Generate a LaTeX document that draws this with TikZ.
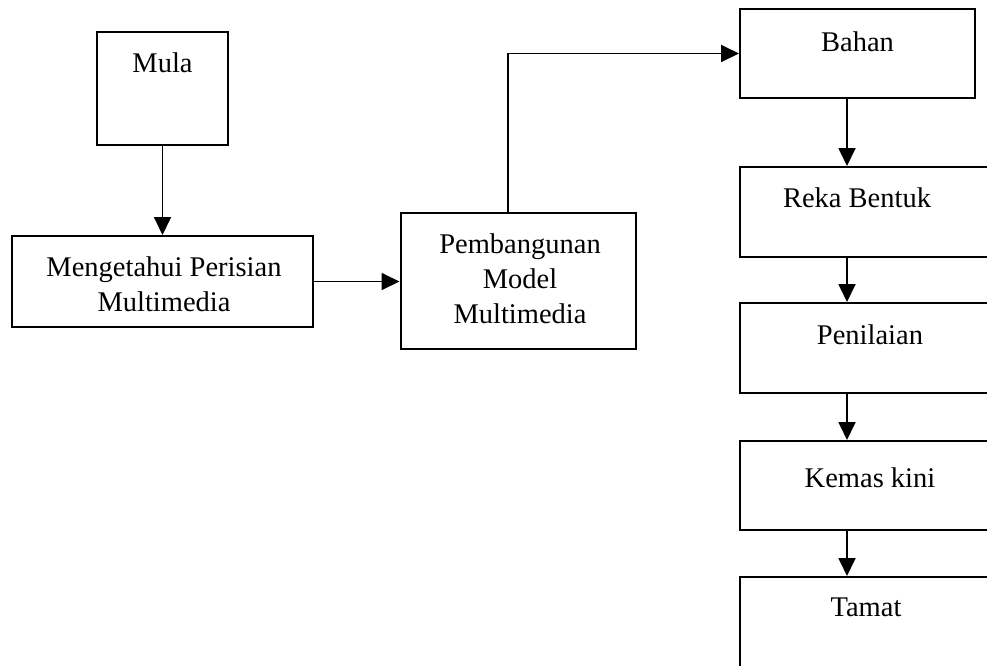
\documentclass[tikz,border=0pt]{standalone}
\usepackage{fontspec}
\setmainfont{Liberation Serif}
\usetikzlibrary{arrows.meta,positioning}

\tikzset{
  box/.style={draw=black, line width=2pt, fill=none, inner sep=0pt},
  lbl/.style={inner sep=0pt, align=center, anchor=north,
              font=\fontsize{28.5}{35}\selectfont},
  arr/.style={line width=1.8pt, -{Triangle[width=17pt,length=18pt]}},
  link/.style={line width=1.8pt}
}

\begin{document}
\begin{tikzpicture}[x=1pt, y=-1pt]
  \useasboundingbox (0,0) rectangle (987,665);
  \clip (0,0) rectangle (987,665);

  % left column and middle box
  \node[box, minimum width=131pt, minimum height=113pt] (mula) at (162.5,88.5) {};
  \node[box, minimum width=301pt, minimum height=91pt]  (meng) at (162.5,281.5) {};
  \node[box, minimum width=235pt, minimum height=136pt] (pemb) at (518,281) {};

  % right column (runs off the right and bottom edges)
  \node[box, minimum width=235pt, minimum height=89pt] (bahan) at (857.5,53.5) {};
  \node[box, minimum width=260pt, minimum height=90pt] (reka)  at (870,212) {};
  \node[box, minimum width=260pt, minimum height=90pt] (pen)   at (870,348) {};
  \node[box, minimum width=260pt, minimum height=89pt] (kemas) at (870,485.5) {};
  \node[box, minimum width=260pt, minimum height=120pt] (tamat) at (870,637) {};

  % labels, set near the top of each box
  \node[lbl] (tmula)  at (162.5,53) {Mula};
  \node[lbl] (tmeng)  at (164,257) {Mengetahui Perisian\\Multimedia};
  \node[lbl] (tpemb)  at (520,234) {Pembangunan\\Model\\Multimedia};
  \node[lbl] (tbahan) at (857.5,32) {Bahan};
  \node[lbl] (treka)  at (857,188) {Reka Bentuk};
  \node[lbl] (tpen)   at (870,325) {Penilaian};
  \node[lbl] (tkemas) at (870,468) {Kemas kini};
  \node[lbl] (ttamat) at (866,598) {Tamat};

  % connectors
  \coordinate (colR) at (847,0);
  \coordinate (riser) at (508,0);
  \draw[arr] (mula.south) -- (meng.north);
  \draw[arr] (meng.east) -- (meng.east -| pemb.west);
  \draw[arr] (pemb.north -| riser) |- (bahan.west);
  \draw[arr] (bahan.south -| colR) -- (reka.north -| colR);
  \draw[arr] (reka.south -| colR)  -- (pen.north -| colR);
  \draw[arr] (pen.south -| colR)   -- (kemas.north -| colR);
  \draw[arr] (kemas.south -| colR) -- (tamat.north -| colR);
\end{tikzpicture}
\end{document}
